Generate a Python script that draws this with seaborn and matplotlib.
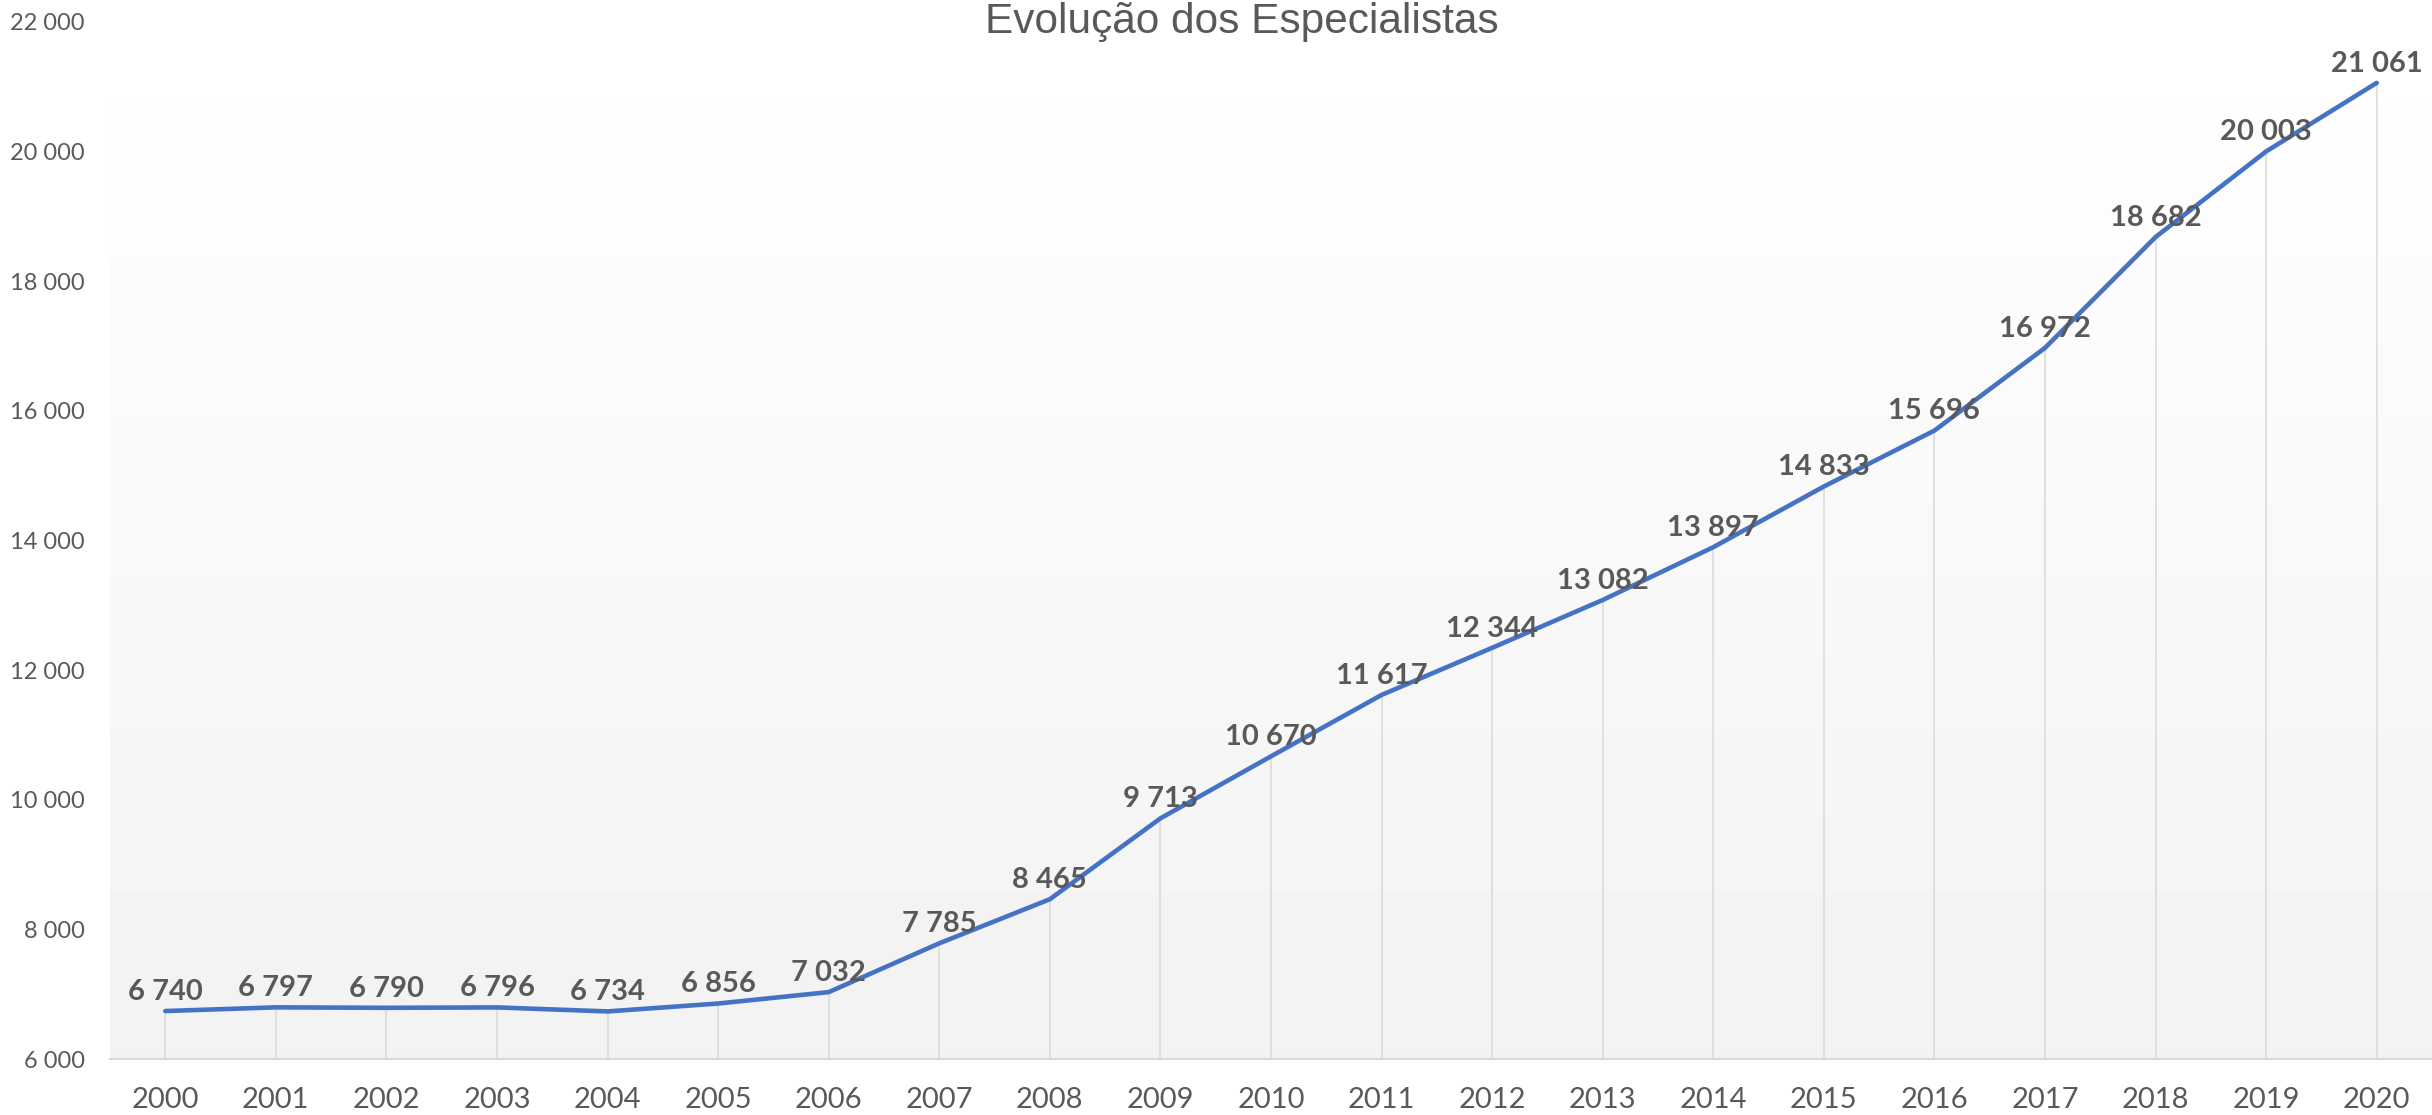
import numpy as np
import matplotlib
matplotlib.use('Agg')
import matplotlib.pyplot as plt
import seaborn as sns

# dados
anos = [2000, 2001, 2002, 2003, 2004, 2005, 2006, 2007, 2008, 2009, 2010,
        2011, 2012, 2013, 2014, 2015, 2016, 2017, 2018, 2019, 2020]
especialistas = [6740, 6797, 6790, 6796, 6734, 6856, 7032, 7785, 8465, 9713, 10670,
                 11617, 12344, 13082, 13897, 14833, 15696, 16972, 18682, 20003, 21061]
y_ticks = [6000, 8000, 10000, 12000, 14000, 16000, 18000, 20000, 22000]
titulo = 'Evolução dos Especialistas'

COR_LINHA = '#4472C4'
COR_TEXTO = '#595959'
COR_GRADE = '#D9D9D9'


def fmt(v):
    # separador de milhar com espaço
    return f'{v:,}'.replace(',', ' ')


sns.set_theme(style='white')
plt.rcParams['font.family'] = ['Lato', 'DejaVu Sans']

W, H = 2432, 1115
fig = plt.figure(figsize=(W / 100, H / 100), dpi=100)
ax = fig.add_axes([110 / W, 56 / H, (W - 110) / W, (1059 - 22) / H])

# fundo em gradiente (branco -> cinza claro)
grad = np.linspace(1.0, 0.949, 256).reshape(-1, 1)
ax.imshow(grad, extent=[0, 1, 0, 1], transform=ax.transAxes, cmap='gray',
          vmin=0, vmax=1, aspect='auto', zorder=0)

# linhas de chamada até o eixo
ax.vlines(anos, y_ticks[0], especialistas, color=COR_GRADE, linewidth=1.1, zorder=1)

sns.lineplot(x=anos, y=especialistas, ax=ax, color=COR_LINHA, linewidth=3.3, zorder=3)

for a, v in zip(anos, especialistas):
    ax.annotate(fmt(v), (a, v), xytext=(0, 8), textcoords='offset points',
                ha='center', va='baseline', fontsize=21, fontweight='bold',
                color=COR_TEXTO, zorder=4)

ax.set_xlim(anos[0] - 0.5, anos[-1] + 0.5)
ax.set_ylim(y_ticks[0], y_ticks[-1])
ax.set_xticks(anos)
ax.set_xticklabels([str(a) for a in anos], fontsize=21, color=COR_TEXTO)
ax.set_yticks(y_ticks)
ax.set_yticklabels([fmt(t) for t in y_ticks], fontsize=17, color=COR_TEXTO)
ax.tick_params(axis='x', length=0, pad=20)
ax.tick_params(axis='y', length=0, pad=18)
ax.set_xlabel('')
ax.set_ylabel('')
ax.grid(False)

for lado in ['left', 'right', 'top']:
    ax.spines[lado].set_visible(False)
ax.spines['bottom'].set_color(COR_GRADE)
ax.spines['bottom'].set_linewidth(1.5)
ax.set_facecolor('white')

# título colado ao topo da figura
fig.text(1242 / W, 1 - 33 / H, titulo, ha='center', va='baseline',
         fontsize=30.5, color=COR_TEXTO, family=['Liberation Sans', 'DejaVu Sans'])

fig.savefig('out.png', dpi=100)
